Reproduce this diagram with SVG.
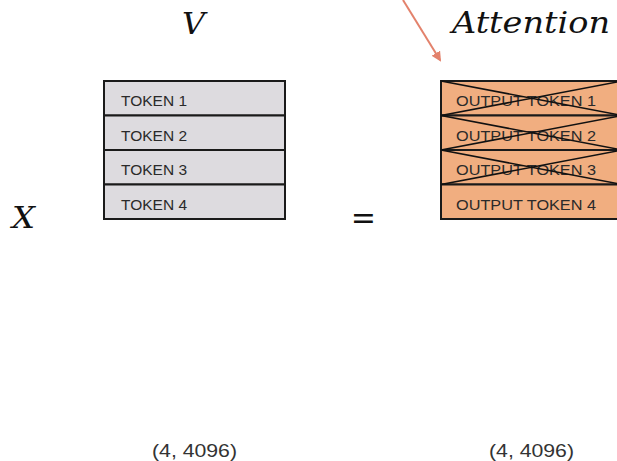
<svg xmlns="http://www.w3.org/2000/svg" width="617" height="461" viewBox="0 0 617 461">
<style>
.math{font-family:"DejaVu Serif","Liberation Serif",serif;font-style:italic;font-size:30px;fill:#111}
.tok{font-family:"Liberation Sans","DejaVu Sans",sans-serif;font-size:15.5px;fill:#2a2a2a}
.dim{font-family:"Liberation Sans","DejaVu Sans",sans-serif;font-size:18px;fill:#333}
.cellV{fill:#DDDBDF;stroke:#1a1a1a;stroke-width:2}
.cellO{fill:#F1AE80;stroke:#1a1a1a;stroke-width:2}
.cross{stroke:#111;stroke-width:1.6;fill:none}
</style>
<defs>
<marker id="ah" markerWidth="10" markerHeight="10" refX="8" refY="5" orient="auto" markerUnits="userSpaceOnUse">
<path d="M0,0 L10,5 L0,10 Z" fill="#E3826C"/>
</marker>
</defs>
<g id="label-V"><text class="math" x="182" y="34" textLength="23" lengthAdjust="spacingAndGlyphs">V</text></g>
<g id="label-Attention"><text class="math" x="452" y="33" textLength="158" lengthAdjust="spacingAndGlyphs">Attention</text></g>
<g id="label-X"><text class="math" x="12" y="228" textLength="23" lengthAdjust="spacingAndGlyphs">X</text></g>
<g id="equals"><text x="352" y="230" textLength="23" lengthAdjust="spacingAndGlyphs" style="font-family:'Liberation Serif',serif;font-weight:bold;font-size:34px;fill:#111">=</text></g>
<g id="matrix-V">
<rect class="cellV" x="104" y="81" width="181" height="34.5"/>
<rect class="cellV" x="104" y="115.5" width="181" height="34.5"/>
<rect class="cellV" x="104" y="150" width="181" height="34.5"/>
<rect class="cellV" x="104" y="184.5" width="181" height="34.5"/>
<text class="tok" x="121" y="106" textLength="66" lengthAdjust="spacingAndGlyphs">TOKEN 1</text>
<text class="tok" x="121" y="140.5" textLength="66" lengthAdjust="spacingAndGlyphs">TOKEN 2</text>
<text class="tok" x="121" y="175" textLength="66" lengthAdjust="spacingAndGlyphs">TOKEN 3</text>
<text class="tok" x="121" y="209.5" textLength="66" lengthAdjust="spacingAndGlyphs">TOKEN 4</text>
</g>
<g id="matrix-Attention">
<rect class="cellO" x="441" y="81" width="181" height="34.5"/>
<rect class="cellO" x="441" y="115.5" width="181" height="34.5"/>
<rect class="cellO" x="441" y="150" width="181" height="34.5"/>
<rect class="cellO" x="441" y="184.5" width="181" height="34.5"/>
<text class="tok" x="456" y="106" textLength="140" lengthAdjust="spacingAndGlyphs">OUTPUT TOKEN 1</text>
<text class="tok" x="456" y="140.5" textLength="140" lengthAdjust="spacingAndGlyphs">OUTPUT TOKEN 2</text>
<text class="tok" x="456" y="175" textLength="140" lengthAdjust="spacingAndGlyphs">OUTPUT TOKEN 3</text>
<text class="tok" x="456" y="209.5" textLength="140" lengthAdjust="spacingAndGlyphs">OUTPUT TOKEN 4</text>
<path class="cross" d="M441,81 L622,115.5 M441,115.5 L622,81"/>
<path class="cross" d="M441,115.5 L622,150 M441,150 L622,115.5"/>
<path class="cross" d="M441,150 L622,184.5 M441,184.5 L622,150"/>
</g>
<g id="dims">
<text class="dim" x="152" y="457" textLength="85" lengthAdjust="spacingAndGlyphs">(4, 4096)</text>
<text class="dim" x="489" y="457" textLength="85" lengthAdjust="spacingAndGlyphs">(4, 4096)</text>
</g>
<g id="connectors">
<line x1="403" y1="0" x2="440" y2="60" stroke="#E3826C" stroke-width="2" marker-end="url(#ah)"/>
</g>
</svg>
